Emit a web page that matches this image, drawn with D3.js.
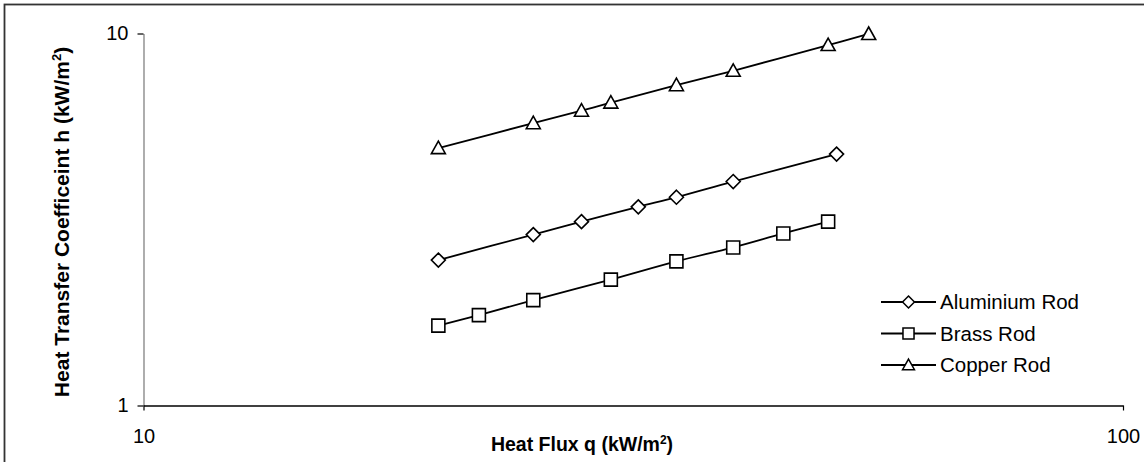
<!DOCTYPE html>
<html>
<head>
<meta charset="utf-8">
<script src="https://cdn.jsdelivr.net/npm/d3@7"></script>
<style>
  body { margin: 0; background: #fff; }
  text { font-family: Arial, "Liberation Sans", sans-serif; fill: #000; }
</style>
</head>
<body>
<div id="chart"></div>
<script>
const seriesNames = ["Aluminium Rod", "Brass Rod", "Copper Rod"];
const markerTypes = ["diamond", "square", "triangle"];

const fluxAluminium = [20, 25, 28, 32, 35, 40, 51];
const hAluminium = [2.46, 2.88, 3.12, 3.42, 3.63, 4.0, 4.74];

const fluxBrass = [20, 22, 25, 30, 35, 40, 45, 50];
const hBrass = [1.64, 1.75, 1.92, 2.18, 2.44, 2.66, 2.9, 3.12];

const fluxCopper = [20, 25, 28, 30, 35, 40, 50, 55];
const hCopper = [4.92, 5.74, 6.2, 6.52, 7.26, 7.94, 9.31, 9.97];

const xTicks = [10, 100];
const yTicks = [1, 10];

const width = 1144, height = 462;
const plot = { left: 143.5, right: 1123, top: 33.5, bottom: 405.5 };

const series = [
  { name: seriesNames[0], marker: markerTypes[0], x: fluxAluminium, y: hAluminium },
  { name: seriesNames[1], marker: markerTypes[1], x: fluxBrass, y: hBrass },
  { name: seriesNames[2], marker: markerTypes[2], x: fluxCopper, y: hCopper }
];

const svg = d3.select("#chart")
  .append("svg")
  .attr("width", width)
  .attr("height", height);

// outer frame (right / bottom edges fall outside the picture)
svg.append("rect")
  .attr("x", 4.5).attr("y", 4.5)
  .attr("width", width + 10).attr("height", height + 10)
  .attr("fill", "none")
  .attr("stroke", "#333")
  .attr("stroke-width", 1.8);

const xScale = d3.scaleLog().domain([10, 100]).range([plot.left, plot.right]);
const yScale = d3.scaleLog().domain([1, 10]).range([plot.bottom, plot.top]);

const xAxis = d3.axisBottom(xScale)
  .tickValues(xTicks)
  .tickFormat(d3.format("d"))
  .tickSize(5)
  .tickSizeOuter(0)
  .tickPadding(18);

const yAxis = d3.axisLeft(yScale)
  .tickValues(yTicks)
  .tickFormat(d3.format("d"))
  .tickSize(6)
  .tickSizeOuter(0)
  .tickPadding(9);

const gy = svg.append("g")
  .attr("transform", `translate(${plot.left},0)`)
  .call(yAxis);
gy.select(".domain").attr("stroke", "#777").attr("stroke-width", 1.2);

const gx = svg.append("g")
  .attr("transform", `translate(0,${plot.bottom})`)
  .call(xAxis);
gx.select(".domain").attr("stroke", "#000").attr("stroke-width", 1.3);

svg.selectAll(".tick line").attr("stroke", "#000").attr("stroke-width", 1.2);
svg.selectAll(".tick text")
  .style("font-size", "20px")
  .style("font-family", "Arial, 'Liberation Sans', sans-serif");

// axis titles
const xTitle = svg.append("text")
  .attr("x", 582)
  .attr("y", 451)
  .attr("text-anchor", "middle")
  .style("font-size", "19.5px")
  .style("font-weight", "bold");
xTitle.append("tspan").text("Heat Flux q (kW/m");
xTitle.append("tspan").attr("dy", -7).style("font-size", "12px").text("2");
xTitle.append("tspan").attr("dy", 7).text(")");

const yTitle = svg.append("text")
  .attr("transform", "translate(69,222) rotate(-90)")
  .attr("text-anchor", "middle")
  .style("font-size", "21px")
  .style("font-weight", "bold");
yTitle.append("tspan").text("Heat Transfer Coefficeint h (kW/m");
yTitle.append("tspan").attr("dy", -8).style("font-size", "13px").text("2");
yTitle.append("tspan").attr("dy", 8).text(")");

function markerPath(type) {
  if (type === "diamond") return "M0,-7L7,0L0,7L-7,0Z";
  if (type === "square") return "M-6.5,-6.5H6.5V6.5H-6.5Z";
  return "M0,-7L7,5.5H-7Z";
}

const line = d3.line()
  .x(d => xScale(d[0]))
  .y(d => yScale(d[1]))
  .curve(d3.curveCatmullRom.alpha(0.5));

series.forEach(s => {
  const pts = s.x.map((v, i) => [v, s.y[i]]);
  svg.append("path")
    .datum(pts)
    .attr("fill", "none")
    .attr("stroke", "#000")
    .attr("stroke-width", 1.8)
    .attr("d", line);

  svg.selectAll(null)
    .data(pts)
    .enter()
    .append("path")
    .attr("transform", d => `translate(${xScale(d[0])},${yScale(d[1])})`)
    .attr("d", markerPath(s.marker))
    .attr("fill", "#fff")
    .attr("stroke", "#000")
    .attr("stroke-width", 1.6);
});

// legend
const legend = svg.append("g").attr("transform", "translate(881,302)");
series.forEach((s, i) => {
  const g = legend.append("g").attr("transform", `translate(0,${i * 31.5})`);
  g.append("line")
    .attr("x1", 0).attr("x2", 55)
    .attr("stroke", "#000").attr("stroke-width", 1.8);
  g.append("path")
    .attr("transform", "translate(27.5,0) scale(0.85)")
    .attr("d", markerPath(s.marker))
    .attr("fill", "#fff")
    .attr("stroke", "#000")
    .attr("stroke-width", 1.8);
  g.append("text")
    .attr("x", 59)
    .attr("dy", "0.36em")
    .style("font-size", "20.5px")
    .text(s.name);
});
</script>
</body>
</html>
